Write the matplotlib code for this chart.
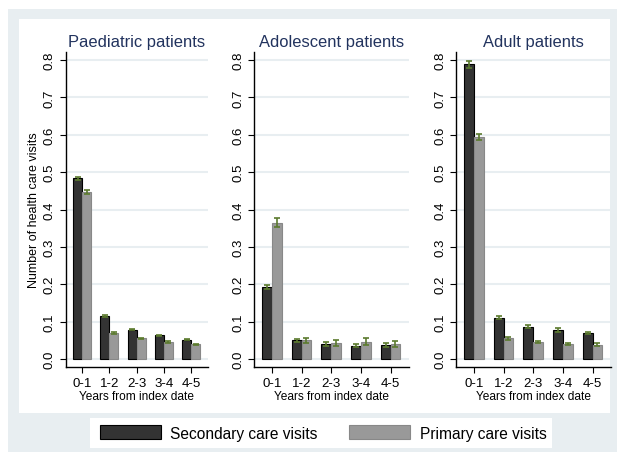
import matplotlib.pyplot as plt
from matplotlib.patches import Rectangle, Patch
import numpy as np

plt.rcParams['font.family'] = ['Liberation Sans', 'DejaVu Sans']

periods = ['0-1', '1-2', '2-3', '3-4', '4-5']
titles = ['Paediatric patients', 'Adolescent patients', 'Adult patients']

# mean visits per patient and half-width of the 95% CI
paed_secondary = [0.484, 0.115, 0.079, 0.063, 0.052]
paed_secondary_ci = [0.004, 0.002, 0.002, 0.002, 0.002]
paed_primary = [0.447, 0.070, 0.055, 0.046, 0.039]
paed_primary_ci = [0.005, 0.002, 0.002, 0.002, 0.002]

adol_secondary = [0.193, 0.050, 0.040, 0.035, 0.038]
adol_secondary_ci = [0.006, 0.004, 0.005, 0.004, 0.006]
adol_primary = [0.365, 0.050, 0.043, 0.046, 0.040]
adol_primary_ci = [0.012, 0.007, 0.008, 0.009, 0.008]

adult_secondary = [0.788, 0.110, 0.087, 0.078, 0.070]
adult_secondary_ci = [0.010, 0.004, 0.004, 0.005, 0.003]
adult_primary = [0.593, 0.056, 0.046, 0.040, 0.038]
adult_primary_ci = [0.008, 0.004, 0.003, 0.003, 0.004]

groups = [
    (paed_secondary, paed_secondary_ci, paed_primary, paed_primary_ci),
    (adol_secondary, adol_secondary_ci, adol_primary, adol_primary_ci),
    (adult_secondary, adult_secondary_ci, adult_primary, adult_primary_ci),
]

W, H = 625, 460
bg = '#e8eef1'
dark = '#333333'
light = '#999999'
ci_color = '#5b7a2e'
title_color = '#22335e'

fig = plt.figure(figsize=(W / 100, H / 100), dpi=100)
fig.patch.set_facecolor('white')


def box(x0, y0, x1, y1, color):
    # rectangle given in pixels from the top-left corner
    fig.patches.append(Rectangle((x0 / W, 1 - y1 / H), (x1 - x0) / W, (y1 - y0) / H,
                                 transform=fig.transFigure, facecolor=color,
                                 edgecolor='none', zorder=-3))


box(8, 10, 617, 453, bg)
box(19, 20, 610, 414, 'white')
box(90, 419, 552, 449, 'white')

panels = [(65.7, 208), (254, 409), (456, 611)]
top, bottom = 53, 368
x = np.arange(1, 6)
width = 0.33

for i, ((left, right), (sec, sec_ci, prim, prim_ci)) in enumerate(zip(panels, groups)):
    ax = fig.add_axes([left / W, 1 - bottom / H, (right - left) / W, (bottom - top) / H])
    ax.set_facecolor('none')

    ax.bar(x - width / 2, sec, width=width, color=dark, edgecolor='black',
           linewidth=0.8, zorder=2)
    ax.bar(x + width / 2, prim, width=width, color=light, edgecolor='#888888',
           linewidth=0.8, zorder=2)
    ax.errorbar(x - width / 2, sec, yerr=sec_ci, fmt='none', ecolor=ci_color,
                elinewidth=1.2, capsize=2.5, capthick=1.2, zorder=3)
    ax.errorbar(x + width / 2, prim, yerr=prim_ci, fmt='none', ecolor=ci_color,
                elinewidth=1.2, capsize=2.5, capthick=1.2, zorder=3)

    ax.set_xlim(0.4, 5.62)
    ax.set_ylim(-0.0213, 0.8213)
    ax.set_yticks(np.arange(0, 0.81, 0.1))
    ax.set_yticklabels(['%.1f' % v for v in np.arange(0, 0.81, 0.1)],
                       rotation=90, va='center', fontsize=9.5)
    ax.set_xticks(x)
    ax.set_xticklabels(periods, fontsize=9.5)
    ax.grid(axis='y', color=bg, linewidth=1.5, zorder=0)
    ax.set_axisbelow(True)
    ax.tick_params(length=4, width=0.8, pad=3)

    for side in ['top', 'right']:
        ax.spines[side].set_visible(False)
    ax.spines['left'].set_linewidth(1)
    ax.spines['bottom'].set_linewidth(1)

    ax.set_xlabel('Years from index date', fontsize=8.6, labelpad=1)
    fig.text((left + right) / 2 / W, 1 - 42 / H, titles[i], ha='center', va='center',
             fontsize=11.9, color=title_color)
    if i == 0:
        ax.set_ylabel('Number of health care visits', fontsize=9, labelpad=3)

handles = [Patch(facecolor=dark, edgecolor='black', linewidth=0.8),
           Patch(facecolor=light, edgecolor='#888888', linewidth=0.8)]
fig.legend(handles, ['Secondary care visits', 'Primary care visits'],
           loc='center', bbox_to_anchor=(323 / W, 1 - 434 / H), ncol=2,
           frameon=False, fontsize=11.2, handlelength=3.95, handleheight=1.0,
           columnspacing=2.0, handletextpad=0.6)

fig.savefig('out.png', dpi=100)
